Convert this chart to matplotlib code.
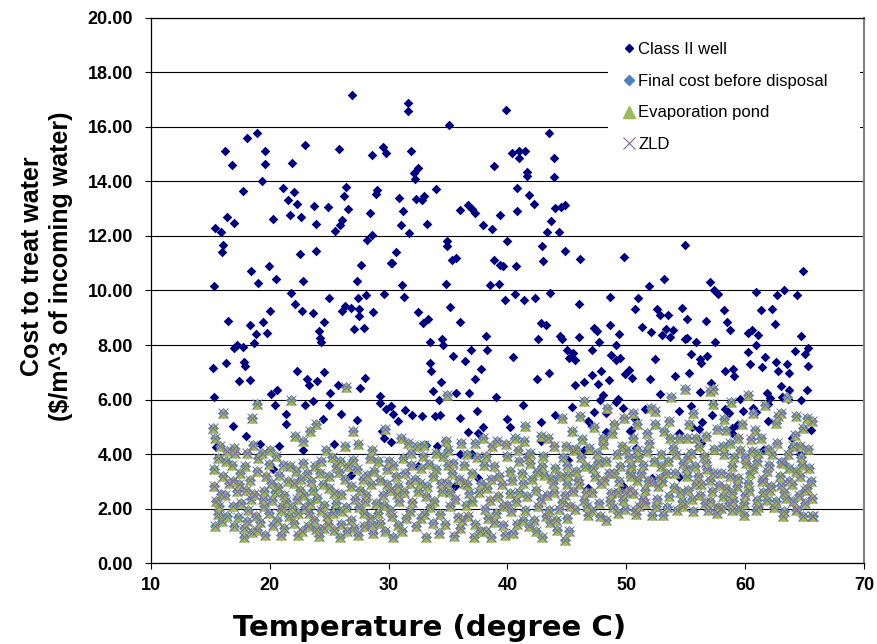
import matplotlib
matplotlib.use("Agg")
import matplotlib.pyplot as plt
from matplotlib.lines import Line2D

# (temperature in degC, cost in $/m^3) for the Class II injection-well case
class2_well = [
    (26.9, 17.15), (18.9, 15.76), (18.1, 15.60), (16.2, 15.13), (19.6, 15.12), (16.8, 14.61), (19.6, 14.65), (21.9, 14.66),
    (23.0, 15.33), (25.8, 15.20), (28.6, 14.96), (29.5, 15.26), (29.8, 15.05), (19.3, 14.01), (17.7, 13.66), (21.1, 13.74),
    (22.0, 13.60), (21.5, 13.32), (22.3, 13.17), (26.4, 13.80), (26.2, 13.45), (26.6, 13.00), (29.0, 13.68), (28.9, 13.52),
    (28.4, 12.85), (23.7, 13.10), (24.9, 13.06), (21.7, 12.76), (22.6, 12.70), (20.3, 12.62), (16.4, 12.70), (17.0, 12.49),
    (15.4, 12.30), (15.9, 12.15), (23.9, 12.43), (26.1, 12.60), (25.9, 12.39), (25.5, 12.18), (16.1, 11.67), (16.0, 11.41),
    (22.5, 11.35), (23.9, 11.46), (28.2, 11.85), (28.6, 12.04), (30.2, 11.00), (27.7, 10.95), (19.9, 10.88), (18.4, 10.70),
    (20.5, 10.43), (19.0, 10.26), (22.8, 10.35), (27.3, 10.35), (15.3, 10.16),
    (31.6, 16.88), (31.6, 16.57), (39.9, 16.60), (35.1, 16.07), (43.5, 15.77), (31.9, 15.12), (40.4, 15.05), (41.0, 15.11),
    (41.5, 15.13), (41.0, 14.84), (43.9, 14.84), (38.9, 14.57), (32.5, 14.49), (32.1, 14.32), (32.2, 14.10), (41.6, 14.34),
    (41.6, 14.20), (43.9, 14.16), (34.0, 13.73), (40.8, 13.74), (30.9, 13.38), (32.3, 13.34), (32.8, 13.32), (33.0, 13.46),
    (41.8, 13.49), (42.2, 13.17), (36.7, 13.15), (37.0, 12.98), (37.3, 12.84), (36.0, 12.95), (31.2, 12.90), (39.4, 12.76),
    (40.8, 12.90), (44.0, 13.02), (44.8, 13.15), (44.5, 13.07), (31.0, 12.39), (33.2, 12.43), (37.9, 12.39), (38.7, 12.24),
    (31.7, 12.10), (43.7, 12.55), (43.3, 12.15), (44.3, 12.15), (34.9, 11.80), (34.9, 11.63), (40.0, 11.83), (42.9, 11.62),
    (44.8, 11.46), (30.6, 11.41), (30.3, 11.00), (35.3, 11.10), (35.7, 11.18), (38.9, 11.11), (39.4, 10.94), (39.6, 10.88),
    (40.7, 10.91), (43.0, 11.09), (46.1, 11.15), (49.8, 11.24), (31.1, 10.20), (34.8, 10.24), (38.5, 10.20), (39.3, 10.23),
    (54.9, 11.65), (64.9, 10.71), (53.2, 10.43), (51.9, 10.16), (57.0, 10.32), (57.4, 10.01), (57.7, 9.89), (60.9, 9.95),
    (62.7, 9.84), (63.3, 10.00), (64.4, 9.84), (51.0, 9.72), (52.6, 9.33), (52.8, 9.12), (53.5, 9.09), (54.7, 9.37),
    (55.1, 8.95), (56.7, 8.89), (58.2, 9.28), (58.5, 8.85), (58.7, 8.57), (61.3, 9.28), (62.3, 9.32), (62.5, 8.78),
    (51.3, 8.67), (52.1, 8.49), (53.3, 8.60), (53.9, 8.57), (53.0, 8.37), (53.7, 8.28), (54.9, 8.22), (55.1, 8.27),
    (55.9, 8.10), (57.5, 8.13), (60.2, 8.43), (60.6, 8.54), (61.1, 8.37), (60.9, 8.02), (64.7, 8.33), (64.2, 7.79),
    (65.0, 7.68), (65.3, 7.90), (55.4, 7.68), (56.8, 7.60), (56.2, 7.48), (56.3, 7.35), (60.2, 7.74), (61.7, 7.57),
    (60.4, 7.32), (61.4, 7.18), (62.6, 7.39), (62.8, 7.06), (63.5, 7.29), (63.7, 6.98), (65.3, 7.22), (52.4, 7.50),
    (52.0, 6.74), (54.1, 6.87), (55.3, 6.98), (58.3, 7.04), (59.0, 7.13), (59.1, 6.87), (57.1, 6.62), (52.8, 6.20),
    (56.2, 6.27), (57.1, 6.32), (63.0, 6.50), (63.7, 6.35), (65.2, 6.35), (61.8, 6.23), (62.1, 6.05), (63.1, 6.11),
    (63.6, 6.02), (64.7, 5.99), (59.6, 6.01), (61.9, 5.84), (51.6, 5.65), (54.4, 5.59), (55.4, 5.76), (59.8, 5.57),
    (60.7, 5.70), (60.9, 5.54), (58.3, 5.65), (58.6, 5.52), (57.2, 5.43), (61.9, 5.20), (59.3, 5.06), (58.9, 4.96),
    (58.9, 4.79), (56.4, 5.17), (56.1, 4.94), (55.5, 4.98), (54.4, 4.79), (63.9, 4.60), (63.9, 4.28), (65.5, 4.87),
    (50.4, 4.89), (64.6, 3.99), (54.4, 3.15), (52.2, 3.13), (61.5, 4.17), (50.8, 4.23), (56.3, 4.42),
    (21.8, 9.92), (25.0, 9.71), (27.4, 9.73), (28.1, 9.82), (29.6, 9.89), (22.1, 9.52), (22.7, 9.25), (23.6, 9.17),
    (20.0, 9.25), (19.4, 8.86), (16.5, 8.90), (18.3, 8.75), (18.8, 8.41), (19.8, 8.43), (18.7, 8.08), (24.6, 8.84),
    (24.1, 8.53), (24.2, 8.25), (24.3, 8.11), (26.3, 9.45), (26.8, 9.37), (26.1, 9.25), (27.5, 9.34), (27.5, 9.06),
    (28.7, 9.20), (27.1, 8.58), (27.9, 8.63), (17.2, 8.01), (17.7, 7.93), (17.0, 7.90), (16.3, 7.35), (15.2, 7.17),
    (17.8, 7.39), (17.9, 7.23), (22.3, 7.06), (17.4, 6.67), (18.3, 6.71), (23.1, 6.75), (23.3, 6.54), (24.0, 6.70),
    (24.6, 7.02), (25.7, 6.54), (28.0, 6.80), (27.6, 6.43), (25.1, 6.23), (15.3, 6.11), (20.1, 6.20), (20.6, 6.34),
    (20.4, 5.80), (23.0, 5.80), (23.6, 5.96), (25.0, 5.80), (26.0, 5.48), (21.4, 5.48), (21.4, 5.12), (24.5, 5.30),
    (16.9, 5.02), (18.0, 4.67), (27.3, 5.24), (29.3, 6.14), (29.3, 5.86), (29.8, 5.64), (29.4, 4.86), (29.6, 4.58),
    (25.4, 4.37), (20.8, 4.29), (19.2, 4.37), (15.5, 4.25), (22.8, 4.17), (20.3, 3.44), (26.8, 3.25), (25.5, 2.06),
    (31.3, 9.77), (32.5, 9.22), (33.3, 8.96), (32.9, 8.80), (35.2, 9.39), (36.0, 8.86), (39.8, 9.65), (40.6, 9.88),
    (41.4, 9.65), (42.3, 9.73), (43.6, 9.92), (46.0, 9.50), (48.6, 9.77), (50.7, 9.31), (42.8, 8.80), (43.2, 8.75),
    (38.2, 8.35), (42.6, 8.23), (44.4, 8.35), (44.6, 8.23), (46.0, 8.29), (47.3, 8.61), (47.5, 8.53), (48.6, 8.75),
    (49.4, 8.41), (47.7, 8.11), (49.1, 7.99), (33.5, 8.11), (34.6, 8.02), (34.5, 8.23), (36.9, 7.83), (38.3, 7.81),
    (35.4, 7.60), (36.4, 7.42), (40.5, 7.57), (45.0, 7.81), (45.5, 7.71), (45.2, 7.51), (45.7, 7.47), (47.1, 7.81),
    (48.7, 7.65), (49.1, 7.45), (49.5, 7.53), (33.5, 7.34), (33.6, 7.06), (37.8, 7.13), (37.3, 6.75), (34.4, 6.63),
    (43.5, 6.99), (42.5, 6.75), (45.7, 6.54), (46.4, 6.63), (47.1, 6.90), (47.9, 7.06), (48.5, 6.72), (47.6, 6.58),
    (50.2, 7.08), (49.9, 6.93), (50.5, 6.81), (33.7, 6.33), (34.2, 6.00), (35.7, 6.24), (36.8, 6.23), (39.0, 6.10),
    (48.0, 6.18), (47.8, 6.00), (49.3, 6.02), (49.1, 5.90), (30.2, 5.78), (30.4, 5.46), (30.8, 5.20), (31.4, 5.61),
    (32.0, 5.42), (32.8, 5.40), (33.9, 5.40), (34.3, 5.45), (36.0, 5.34), (37.4, 5.57), (41.3, 5.82), (45.4, 5.73),
    (40.0, 5.30), (40.2, 5.00), (37.9, 4.99), (37.5, 4.77), (36.7, 4.83), (42.8, 5.18), (44.0, 5.42), (47.3, 5.54),
    (48.3, 5.52), (46.8, 5.22), (47.1, 5.04), (49.7, 5.69), (50.7, 5.28), (48.3, 4.80), (34.7, 4.50), (34.1, 4.31),
    (33.1, 4.34), (30.2, 4.43), (42.8, 4.50), (36.0, 4.01), (37.0, 4.02), (45.1, 3.80), (46.4, 4.17), (46.8, 2.76),
    (37.5, 3.13), (35.6, 2.85), (49.7, 2.82), (32.5, 3.56), (50.3, 4.85),
]

# (temperature in degC, cost in $/m^3) for the water treated before disposal
treated = [
    (26.4, 6.48), (21.8, 6.00), (34.9, 6.18), (54.9, 6.38), (57.0, 6.30), (60.2, 6.16),
    (16.1, 5.52), (15.2, 4.97), (18.5, 5.34), (18.9, 5.83), (22.1, 4.66), (22.8, 4.48), (23.4, 4.85), (23.9, 5.09),
    (27.0, 4.85), (27.4, 4.36), (28.6, 4.17), (29.7, 4.91), (16.4, 4.11), (17.0, 4.23), (18.1, 4.05), (19.3, 4.05),
    (20.5, 3.93), (21.7, 3.56), (22.8, 3.68), (24.3, 3.74), (25.9, 3.74), (27.0, 3.80), (28.4, 3.87), (15.3, 3.44),
    (16.1, 3.19), (15.3, 2.82), (16.9, 3.00), (17.2, 2.64), (18.0, 2.70), (18.9, 3.37), (19.5, 2.64), (20.1, 2.94),
    (21.2, 2.52), (22.0, 2.94), (22.5, 2.70), (23.1, 3.31), (23.6, 2.70), (25.0, 3.19), (25.4, 2.58), (26.8, 2.82),
    (27.6, 2.70), (28.1, 2.52), (29.3, 3.07), (29.9, 3.44), (15.7, 2.09), (16.4, 1.72), (17.0, 1.35), (15.4, 1.35),
    (17.8, 1.29), (18.5, 1.13), (17.8, 0.98), (19.5, 2.09), (20.2, 2.33), (20.6, 1.60), (21.2, 1.29), (22.0, 1.47),
    (22.7, 1.17), (23.7, 1.60), (24.3, 1.96), (24.8, 1.72), (25.4, 1.23), (25.9, 0.98), (26.8, 1.60), (27.9, 1.35),
    (28.7, 1.10), (29.3, 1.47), (30.1, 1.96), (22.4, 1.84), (23.4, 2.21), (20.9, 1.96), (18.9, 1.23),
    (15.6, 3.85), (15.9, 2.55), (16.6, 2.95), (16.8, 3.60), (17.5, 3.30), (17.6, 2.20), (18.3, 3.05), (18.4, 2.35),
    (18.8, 1.75), (19.2, 1.50), (19.7, 3.20), (19.9, 1.85), (20.4, 2.60), (20.8, 3.25), (21.0, 2.10), (21.5, 3.00),
    (21.6, 1.75), (22.2, 3.40), (22.3, 2.35), (23.0, 2.05), (23.2, 1.35), (23.8, 3.55), (24.0, 2.40), (24.5, 2.90),
    (24.6, 1.30), (25.2, 3.90), (25.6, 2.20), (25.8, 3.35), (26.1, 1.90), (26.3, 3.10), (26.5, 1.20), (27.2, 2.35),
    (27.3, 3.45), (27.9, 1.85), (28.2, 3.25), (28.5, 2.90), (28.9, 2.20), (29.5, 2.50), (29.7, 1.20), (29.9, 2.90),
    (16.0, 1.55), (17.3, 1.70), (18.1, 1.55), (19.6, 1.05), (20.9, 1.05), (22.4, 1.05), (24.1, 1.00), (24.9, 1.45),
    (26.0, 1.45), (27.4, 1.05), (28.4, 1.65), (15.8, 4.30), (18.6, 4.35), (20.0, 4.15), (24.7, 4.15), (26.3, 4.30),
    (29.1, 3.75),
    (15.4, 4.60), (15.5, 2.30), (15.6, 1.80), (16.2, 2.50), (16.3, 3.75), (16.9, 2.10), (17.1, 4.05), (17.4, 2.90),
    (17.9, 3.55), (18.2, 1.95), (18.7, 2.55), (19.0, 3.85), (19.4, 2.35), (19.9, 3.65), (20.3, 1.40), (20.7, 2.80),
    (21.1, 3.60), (21.4, 2.30), (21.9, 2.05), (22.6, 3.10), (22.9, 2.50), (23.3, 1.85), (23.5, 3.00), (23.9, 1.25),
    (24.2, 3.30), (24.6, 2.15), (25.0, 2.75), (25.3, 1.85), (25.6, 3.55), (26.0, 2.55), (26.4, 2.05), (26.6, 3.55),
    (27.1, 1.30), (27.5, 2.05), (27.8, 3.10), (28.0, 2.30), (28.6, 1.45), (28.8, 3.40), (29.1, 1.85), (29.6, 2.15),
    (30.0, 3.75),
    (44.6, 5.34), (46.1, 5.40), (46.4, 5.95), (41.5, 5.03), (42.8, 4.66), (43.4, 4.60), (45.4, 4.85), (46.3, 4.54),
    (48.8, 4.79), (49.8, 5.34), (31.6, 4.42), (31.9, 4.05), (34.0, 4.05), (35.0, 4.17), (36.1, 4.42), (37.3, 4.42),
    (38.7, 4.29), (39.9, 4.36), (40.9, 4.17), (41.9, 4.05), (45.5, 4.17), (46.9, 4.23), (47.5, 4.05), (48.0, 4.36),
    (50.0, 4.17), (30.4, 3.62), (31.4, 3.31), (32.7, 3.50), (33.7, 3.19), (34.6, 3.93), (35.4, 3.68), (38.2, 3.93),
    (39.3, 3.19), (40.2, 3.37), (41.0, 3.74), (41.9, 3.68), (42.9, 3.56), (43.7, 3.13), (45.1, 3.25), (45.8, 3.37),
    (47.2, 3.50), (48.3, 3.74), (49.5, 3.56), (50.3, 3.31), (30.1, 2.70), (30.8, 2.82), (31.8, 2.94), (32.5, 2.64),
    (33.1, 2.45), (34.5, 2.64), (36.3, 2.94), (36.8, 2.58), (37.8, 2.94), (38.5, 2.33), (40.2, 2.58), (41.3, 2.94),
    (42.4, 2.70), (43.8, 2.94), (44.8, 2.52), (45.5, 2.64), (46.4, 2.33), (47.9, 2.94), (48.7, 2.58), (49.7, 2.33),
    (50.3, 2.70), (30.8, 1.41), (30.4, 0.98), (31.8, 1.90), (32.7, 1.66), (33.7, 1.47), (34.2, 1.10), (35.2, 2.09),
    (36.0, 1.29), (36.7, 1.72), (37.2, 0.98), (38.2, 1.17), (39.0, 1.84), (39.8, 1.04), (40.5, 1.10), (41.3, 1.60),
    (42.4, 1.17), (43.2, 1.72), (44.2, 1.23), (44.8, 0.86), (45.0, 1.66), (46.8, 1.78), (48.3, 1.60), (49.3, 1.84),
    (50.7, 1.96),
    (30.6, 3.20), (30.9, 2.30), (31.2, 3.85), (31.5, 1.65), (32.0, 2.25), (32.2, 3.10), (32.9, 3.95), (33.2, 2.85),
    (33.5, 2.05), (34.0, 3.45), (34.3, 1.80), (34.9, 2.95), (35.3, 3.30), (35.6, 2.35), (35.8, 1.70), (36.3, 3.60),
    (36.5, 2.15), (37.0, 3.30), (37.3, 1.45), (37.6, 2.60), (38.0, 3.60), (38.1, 2.00), (38.6, 3.10), (38.9, 1.50),
    (39.5, 2.90), (39.6, 2.10), (40.0, 3.95), (40.3, 1.90), (40.7, 2.30), (41.2, 3.30), (41.6, 2.45), (41.8, 1.35),
    (42.1, 3.10), (42.6, 2.10), (43.0, 3.95), (43.3, 2.50), (43.6, 1.50), (44.0, 3.50), (44.3, 2.00), (44.7, 3.90),
    (45.0, 2.90), (45.3, 2.10), (31.0, 4.60), (33.0, 4.35), (36.6, 4.00), (39.1, 4.50), (41.4, 4.50), (43.9, 4.30),
    (35.5, 1.00), (33.1, 0.95), (42.9, 0.95), (38.6, 0.95),
    (30.3, 1.75), (30.7, 2.55), (31.1, 1.20), (31.3, 2.60), (31.9, 3.60), (32.3, 1.35), (32.6, 2.95), (33.0, 1.80),
    (33.4, 3.65), (33.8, 2.30), (34.4, 2.95), (34.7, 1.45), (35.0, 3.60), (35.2, 2.60), (35.9, 3.10), (36.2, 1.60),
    (36.6, 2.90), (37.0, 2.30), (37.4, 3.90), (37.7, 1.20), (38.3, 2.75), (38.4, 1.65), (38.9, 3.55), (39.2, 2.45),
    (39.6, 1.40), (40.0, 2.15), (40.4, 3.05), (40.8, 1.45), (41.0, 2.60), (41.5, 1.95), (41.7, 3.90), (42.2, 1.60),
    (42.5, 3.35), (42.8, 2.35), (43.1, 3.25), (43.5, 1.95), (43.9, 2.60), (44.1, 1.60), (44.4, 3.20), (44.6, 2.25),
    (45.0, 3.60), (45.2, 1.20), (44.9, 4.30), (32.4, 4.30), (34.8, 4.50), (37.9, 4.60), (40.6, 4.60),
    (52.1, 5.71), (50.9, 5.09), (52.4, 5.09), (51.7, 4.79), (53.2, 4.85), (55.1, 4.60), (56.7, 4.66), (57.6, 4.91),
    (58.2, 5.30), (57.3, 5.83), (60.7, 5.52), (63.0, 5.52), (62.6, 5.15), (64.3, 5.40), (65.2, 5.34), (64.9, 4.97),
    (64.6, 4.29), (60.5, 4.54), (58.7, 4.42), (59.6, 4.17), (61.1, 4.05), (62.3, 3.99), (50.9, 4.17), (51.7, 4.11),
    (53.9, 4.23), (54.2, 3.99), (55.4, 4.05), (56.5, 3.93), (58.2, 3.99), (50.4, 3.56), (51.4, 3.62), (52.9, 3.56),
    (53.5, 3.74), (54.8, 3.68), (55.8, 3.56), (58.9, 3.56), (60.1, 3.68), (61.0, 3.74), (61.8, 3.37), (63.2, 3.68),
    (63.7, 3.50), (64.3, 3.37), (64.6, 3.19), (50.9, 3.07), (52.8, 3.13), (55.1, 3.19), (56.0, 3.19), (57.0, 3.07),
    (57.8, 2.88), (59.4, 3.13), (60.2, 2.94), (61.4, 3.00), (62.1, 2.70), (63.0, 2.88), (65.2, 2.76), (50.6, 2.58),
    (51.6, 2.70), (52.7, 2.82), (53.6, 2.45), (55.2, 2.70), (56.2, 2.52), (57.2, 2.64), (58.1, 2.45), (58.9, 2.58),
    (60.0, 2.52), (61.0, 2.33), (61.8, 2.33), (63.4, 2.39), (64.0, 2.27), (51.1, 2.09), (52.2, 1.78), (53.1, 1.78),
    (54.3, 1.96), (55.6, 1.90), (56.9, 1.96), (58.0, 2.02), (58.9, 1.96), (59.9, 1.78), (63.2, 1.72), (64.3, 1.96),
    (64.9, 1.72), (65.6, 1.72),
    (45.9, 3.05), (46.2, 3.90), (46.6, 2.60), (47.0, 1.95), (47.4, 3.20), (47.7, 2.20), (48.0, 4.60), (48.5, 3.30),
    (48.9, 2.05), (49.2, 4.00), (49.4, 3.00), (49.9, 2.00), (50.2, 3.90), (50.6, 4.60), (51.2, 3.30), (51.4, 2.35),
    (51.9, 4.40), (52.1, 3.00), (52.5, 2.10), (52.9, 4.00), (53.3, 3.30), (53.6, 5.20), (54.0, 2.80), (54.4, 4.60),
    (54.7, 2.30), (55.0, 3.50), (55.3, 5.10), (55.9, 2.90), (56.1, 4.30), (56.6, 2.20), (56.8, 3.45), (57.4, 4.20),
    (57.6, 1.85), (58.0, 3.30), (58.4, 4.90), (58.6, 2.20), (59.1, 3.90), (59.3, 2.85), (59.7, 5.10), (59.9, 2.20),
    (60.4, 3.30), (60.6, 4.10), (60.9, 1.95), (61.3, 4.60), (61.5, 2.60), (62.0, 3.60), (62.4, 2.05), (62.7, 4.40),
    (62.9, 3.20), (63.3, 2.60), (63.6, 4.00), (63.9, 2.90), (64.2, 4.70), (64.5, 2.50), (64.8, 3.60), (65.0, 2.20),
    (65.3, 4.20), (65.5, 3.00), (65.6, 5.20), (65.7, 1.75), (45.8, 4.20), (47.3, 5.00), (48.4, 5.70), (50.6, 5.50),
    (53.8, 6.10), (55.6, 5.50), (57.3, 6.40), (61.7, 5.80), (63.5, 6.10), (58.8, 5.90),
    (45.7, 2.00), (46.0, 2.90), (46.5, 3.55), (46.7, 2.10), (47.1, 2.60), (47.6, 3.70), (47.8, 1.75), (48.1, 3.05),
    (48.6, 2.30), (49.0, 3.30), (49.3, 2.60), (49.6, 4.30), (50.0, 2.60), (50.4, 3.20), (50.8, 1.80), (51.0, 3.90),
    (51.6, 2.20), (51.8, 3.00), (52.3, 3.75), (52.6, 2.35), (53.0, 3.00), (53.4, 2.05), (53.7, 4.60), (54.1, 3.30),
    (54.5, 2.60), (54.8, 2.10), (55.2, 3.90), (55.5, 2.35), (55.9, 4.60), (56.3, 2.90), (56.7, 3.70), (57.0, 2.30),
    (57.3, 3.30), (57.7, 2.05), (58.1, 4.30), (58.4, 2.75), (58.7, 3.20), (59.0, 2.30), (59.4, 4.60), (59.6, 2.00),
    (60.0, 3.90), (60.3, 2.70), (60.7, 3.50), (61.1, 2.05), (61.5, 3.10), (61.9, 4.20), (62.2, 2.85), (62.6, 2.30),
    (63.0, 3.70), (63.3, 1.90), (63.7, 3.00), (64.0, 4.30), (64.4, 2.00), (64.7, 3.90), (65.0, 2.70), (65.4, 3.50),
    (65.6, 2.40), (62.8, 5.40), (60.8, 4.90), (52.4, 5.60), (49.0, 5.10),
]

class2_temp = [p[0] for p in class2_well]
class2_cost = [p[1] for p in class2_well]
treated_temp = [p[0] for p in treated]
final_cost = [p[1] for p in treated]
# at this scale the evaporation-pond and ZLD costs sit on the final cost
evap_cost = list(final_cost)
zld_cost = list(final_cost)

series_names = ["Class II well", "Final cost before disposal", "Evaporation pond", "ZLD"]
x_ticks = [10, 20, 30, 40, 50, 60, 70]
y_ticks = [0, 2, 4, 6, 8, 10, 12, 14, 16, 18, 20]

NAVY = "#000080"
BLUE = "#4F81BD"
GREEN = "#9BBB59"
PURPLE = "#8064A2"

plt.rcParams["font.family"] = ["Liberation Sans", "DejaVu Sans"]

fig = plt.figure(figsize=(8.77, 6.44), dpi=100)
ax = fig.add_axes([151 / 877, 1 - 563.3 / 644, 713 / 877, 545.6 / 644])

ax.scatter(class2_temp, class2_cost, marker="D", s=24, color=NAVY, linewidths=0, zorder=3)
ax.scatter(treated_temp, final_cost, marker="D", s=32, color=BLUE, linewidths=0, zorder=4)
ax.scatter(treated_temp, evap_cost, marker="^", s=56, color=GREEN, linewidths=0, zorder=5)
ax.scatter(treated_temp, zld_cost, marker="x", s=50, color=PURPLE, linewidths=0.7, zorder=6)

ax.set_xlim(10, 70)
ax.set_ylim(0, 20)
ax.set_xticks(x_ticks)
ax.set_yticks(y_ticks)
ax.set_xticklabels([f"{t}" for t in x_ticks], fontsize=13, fontweight="bold")
ax.set_yticklabels([f"{t:.2f}" for t in y_ticks], fontsize=13, fontweight="bold")
ax.tick_params(axis="both", direction="out", length=4, width=0.8, color="black")
ax.tick_params(axis="y", pad=9)
ax.tick_params(axis="x", pad=6)

ax.set_axisbelow(True)
ax.yaxis.grid(True, color="black", linewidth=0.8)
for side in ("left", "bottom", "top"):
    ax.spines[side].set_color("black")
    ax.spines[side].set_linewidth(0.9)
ax.spines["right"].set_color("#808080")
ax.spines["right"].set_linewidth(1.5)

handles = [
    Line2D([], [], marker="D", linestyle="none", markersize=4, color=NAVY),
    Line2D([], [], marker="D", linestyle="none", markersize=5.5, color=BLUE),
    Line2D([], [], marker="^", linestyle="none", markersize=8, color=GREEN),
    Line2D([], [], marker="x", linestyle="none", markersize=8, color=PURPLE, markeredgewidth=0.8),
]
leg = ax.legend(handles, series_names, loc="upper left", bbox_to_anchor=(0.641, 0.986, 0.354, 0.0),
                mode="expand", frameon=True, facecolor="white", edgecolor="none", framealpha=1,
                fancybox=False, fontsize=12, handlelength=0.55, handletextpad=0.25,
                labelspacing=1.0, borderpad=1.0, borderaxespad=0)
leg.set_zorder(2)

fig.text(430 / 877, 1 - 628 / 644, "Temperature (degree C)", fontsize=21, fontweight="bold",
         family=["DejaVu Sans"], ha="center", va="center")
fig.text(46.5 / 877, 1 - 266 / 644, "Cost to treat water\n($/m^3 of incoming water)", fontsize=18,
         fontweight="bold", rotation=90, ha="center", va="center", multialignment="center",
         linespacing=1.3)

fig.savefig("out.png", dpi=100, facecolor="white")
